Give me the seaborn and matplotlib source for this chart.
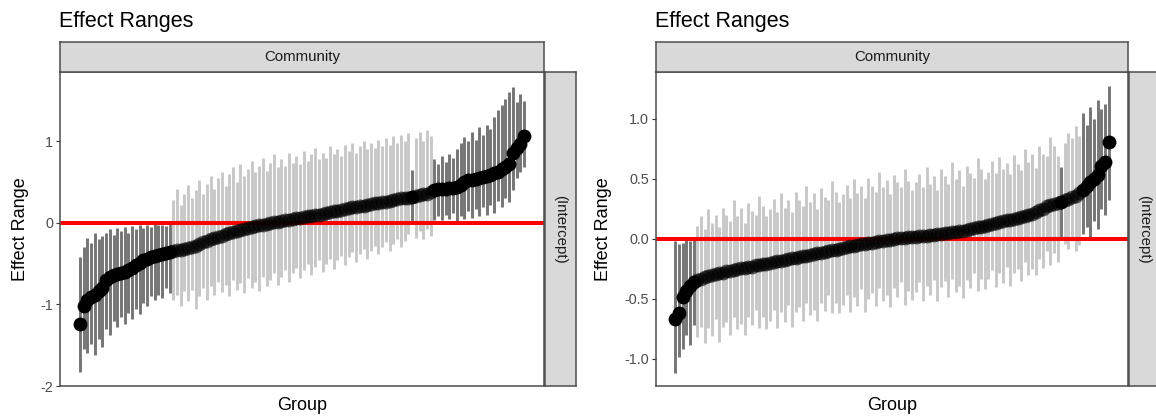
import numpy as np
import pandas as pd
import seaborn as sns
import matplotlib.pyplot as plt

# ---- data (median + interval per group) ----
left_median = [
    -1.245, -1.02, -0.95, -0.91, -0.88, -0.84, -0.80, -0.70, -0.66, -0.64,
    -0.63, -0.61, -0.60, -0.58, -0.55, -0.52, -0.49, -0.46, -0.44, -0.42,
    -0.41, -0.39, -0.38, -0.37, -0.36, -0.34, -0.335, -0.33, -0.32, -0.31,
    -0.30, -0.28, -0.26, -0.24, -0.22, -0.20, -0.19, -0.17, -0.155, -0.14,
    -0.12, -0.11, -0.10, -0.085, -0.07, -0.06, -0.05, -0.04, -0.03, -0.02,
    -0.01, 0.00, 0.005, 0.01, 0.02, 0.03, 0.04, 0.05, 0.055, 0.06,
    0.07, 0.08, 0.09, 0.095, 0.10, 0.11, 0.12, 0.13, 0.14, 0.15,
    0.16, 0.17, 0.18, 0.19, 0.20, 0.205, 0.21, 0.22, 0.23, 0.24,
    0.245, 0.25, 0.26, 0.27, 0.28, 0.29, 0.30, 0.305, 0.31, 0.32,
    0.33, 0.34, 0.35, 0.36, 0.38, 0.40, 0.41, 0.42, 0.42, 0.43,
    0.43, 0.44, 0.47, 0.50, 0.52, 0.53, 0.54, 0.55, 0.56, 0.57,
    0.59, 0.61, 0.63, 0.66, 0.69, 0.72, 0.86, 0.92, 0.97, 1.07,
]
left_lower = [
    -1.83, -1.55, -1.60, -1.48, -1.62, -1.42, -1.52, -1.30, -1.38, -1.20,
    -1.28, -1.15, -1.24, -1.10, -1.18, -1.05, -1.12, -0.98, -1.02, -0.90,
    -0.95, -0.88, -0.92, -0.80, -0.86, -0.95, -0.88, -1.02, -0.84, -0.96,
    -0.82, -1.05, -0.90, -0.80, -0.94, -0.78, -0.88, -0.72, -0.85, -0.76,
    -0.90, -0.70, -0.82, -0.74, -0.86, -0.68, -0.80, -0.72, -0.84, -0.66,
    -0.78, -0.70, -0.62, -0.76, -0.66, -0.58, -0.72, -0.62, -0.55, -0.68,
    -0.58, -0.50, -0.64, -0.54, -0.46, -0.60, -0.50, -0.44, -0.56, -0.46,
    -0.40, -0.52, -0.42, -0.36, -0.48, -0.38, -0.32, -0.44, -0.34, -0.28,
    -0.38, -0.30, -0.24, -0.34, -0.26, -0.20, -0.30, -0.22, -0.14, 0.02,
    -0.18, -0.10, -0.20, -0.08, -0.16, 0.04, 0.08, 0.03, 0.10, 0.05,
    0.12, 0.02, 0.09, 0.05, 0.14, 0.06, 0.17, 0.08, 0.19, 0.10,
    0.22, 0.12, 0.27, 0.20, 0.30, 0.25, 0.40, 0.55, 0.62, 0.68,
]
left_upper = [
    -0.42, -0.30, -0.18, -0.25, -0.12, -0.20, -0.16, -0.12, -0.08, -0.15,
    -0.06, -0.10, -0.05, -0.13, -0.04, -0.08, -0.03, -0.06, -0.02, -0.05,
    -0.01, -0.03, -0.02, -0.04, -0.01, 0.28, 0.42, 0.22, 0.36, 0.47,
    0.30, 0.40, 0.52, 0.35, 0.48, 0.58, 0.42, 0.55, 0.62, 0.45,
    0.60, 0.68, 0.50, 0.72, 0.58, 0.66, 0.76, 0.62, 0.70, 0.80,
    0.64, 0.74, 0.84, 0.68, 0.78, 0.70, 0.86, 0.74, 0.82, 0.72,
    0.88, 0.76, 0.84, 0.92, 0.78, 0.86, 0.80, 0.94, 0.84, 0.90,
    0.82, 0.96, 0.88, 0.98, 0.86, 0.94, 1.00, 0.90, 0.98, 0.92,
    1.02, 0.94, 1.04, 0.96, 1.06, 0.98, 1.08, 1.00, 1.10, 0.65,
    1.04, 1.12, 1.00, 1.14, 1.06, 0.78, 0.72, 0.82, 0.75, 0.85,
    0.80, 0.90, 0.98, 1.05, 1.00, 1.12, 1.02, 1.17, 1.08, 1.20,
    1.15, 1.30, 1.38, 1.45, 1.52, 1.60, 1.66, 1.48, 1.58, 1.50,
]

right_median = [
    -0.67, -0.62, -0.48, -0.43, -0.39, -0.36, -0.34, -0.33, -0.32, -0.31,
    -0.30, -0.29, -0.285, -0.28, -0.27, -0.265, -0.26, -0.25, -0.245, -0.24,
    -0.235, -0.23, -0.22, -0.215, -0.21, -0.205, -0.20, -0.19, -0.185, -0.18,
    -0.175, -0.17, -0.16, -0.155, -0.15, -0.145, -0.14, -0.13, -0.125, -0.12,
    -0.115, -0.11, -0.10, -0.095, -0.09, -0.08, -0.075, -0.07, -0.06, -0.055,
    -0.05, -0.045, -0.04, -0.035, -0.03, -0.025, -0.02, -0.015, -0.01, -0.005,
    0.0, 0.005, 0.008, 0.01, 0.013, 0.015, 0.02, 0.022, 0.025, 0.027,
    0.03, 0.035, 0.04, 0.045, 0.05, 0.05, 0.055, 0.06, 0.065, 0.07,
    0.075, 0.08, 0.09, 0.095, 0.10, 0.11, 0.115, 0.12, 0.13, 0.14,
    0.15, 0.155, 0.16, 0.165, 0.17, 0.18, 0.19, 0.20, 0.21, 0.22,
    0.24, 0.25, 0.27, 0.28, 0.29, 0.30, 0.31, 0.32, 0.33, 0.35,
    0.36, 0.38, 0.41, 0.44, 0.47, 0.50, 0.53, 0.61, 0.64, 0.81,
]
right_lower = [
    -1.12, -0.98, -0.92, -0.80, -0.88, -0.72, -0.82, -0.73, -0.87, -0.74,
    -0.81, -0.67, -0.86, -0.73, -0.69, -0.80, -0.65, -0.75, -0.71, -0.80,
    -0.65, -0.72, -0.59, -0.74, -0.65, -0.75, -0.68, -0.59, -0.74, -0.61,
    -0.69, -0.55, -0.73, -0.61, -0.57, -0.68, -0.53, -0.63, -0.59, -0.68,
    -0.53, -0.60, -0.47, -0.62, -0.53, -0.62, -0.55, -0.47, -0.61, -0.48,
    -0.56, -0.42, -0.61, -0.50, -0.45, -0.56, -0.41, -0.52, -0.47, -0.57,
    -0.41, -0.48, -0.36, -0.55, -0.43, -0.51, -0.44, -0.36, -0.52, -0.39,
    -0.47, -0.34, -0.52, -0.40, -0.35, -0.48, -0.33, -0.44, -0.39, -0.49,
    -0.34, -0.41, -0.28, -0.43, -0.33, -0.42, -0.33, -0.26, -0.40, -0.28,
    -0.37, -0.23, -0.39, -0.28, -0.25, -0.35, -0.19, -0.30, -0.25, -0.30,
    -0.17, -0.24, -0.10, -0.22, -0.12, -0.19, 0.01, -0.04, -0.08, -0.02,
    -0.10, -0.05, 0.04, 0.10, 0.02, 0.15, 0.08, 0.25, 0.20, 0.32,
]
right_upper = [
    -0.02, -0.04, -0.03, -0.01, -0.02, -0.01, 0.11, 0.19, 0.08, 0.25,
    0.13, 0.20, 0.10, 0.26, 0.20, 0.15, 0.32, 0.19, 0.26, 0.13,
    0.30, 0.23, 0.20, 0.36, 0.27, 0.19, 0.25, 0.33, 0.22, 0.38,
    0.26, 0.32, 0.22, 0.39, 0.32, 0.27, 0.44, 0.31, 0.38, 0.25,
    0.42, 0.35, 0.32, 0.48, 0.39, 0.31, 0.37, 0.45, 0.34, 0.50,
    0.38, 0.44, 0.34, 0.51, 0.44, 0.39, 0.56, 0.43, 0.49, 0.37,
    0.53, 0.47, 0.43, 0.58, 0.48, 0.41, 0.47, 0.54, 0.43, 0.60,
    0.46, 0.52, 0.41, 0.58, 0.52, 0.46, 0.64, 0.50, 0.57, 0.44,
    0.61, 0.55, 0.51, 0.67, 0.58, 0.50, 0.56, 0.65, 0.55, 0.68,
    0.58, 0.63, 0.54, 0.70, 0.62, 0.57, 0.75, 0.64, 0.71, 0.59,
    0.77, 0.71, 0.69, 0.85, 0.77, 0.69, 0.60, 0.80, 0.88, 0.84,
    0.94, 0.86, 1.05, 0.95, 1.10, 1.00, 1.16, 1.08, 1.12, 1.27,
]

left_ticks = [-2, -1, 0, 1]
left_ticklabels = ["-2", "-1", "0", "1"]
right_ticks = [-1.0, -0.5, 0.0, 0.5, 1.0]
right_ticklabels = ["-1.0", "-0.5", "0.0", "0.5", "1.0"]

facet_col = "Community"
facet_row = "(Intercept)"


def make_frame(med, lo, hi):
    df = pd.DataFrame({"median": med, "lower": lo, "upper": hi})
    df["group"] = np.arange(len(df))
    # significant when the whole interval sits on one side of zero
    df["sig"] = (df["lower"] > 0) | (df["upper"] < 0)
    return df


left_df = make_frame(left_median, left_lower, left_upper)
right_df = make_frame(right_median, right_lower, right_upper)

sns.set_theme(style="white")
plt.rcParams["font.family"] = ["Liberation Sans", "DejaVu Sans"]

W, H = 1156, 420
fig = plt.figure(figsize=(W / 100, H / 100), dpi=100)


def px_rect(x0, y0, x1, y1):
    return [x0 / W, 1 - y1 / H, (x1 - x0) / W, (y1 - y0) / H]


def strip(x0, y0, x1, y1, label, rotation=0):
    sax = fig.add_axes(px_rect(x0, y0, x1, y1))
    sax.set_facecolor("#d9d9d9")
    sax.set_xticks([])
    sax.set_yticks([])
    for sp in sax.spines.values():
        sp.set_color("#4d4d4d")
        sp.set_linewidth(1.1)
    sax.text(0.5, 0.5, label, rotation=rotation, ha="center", va="center",
             fontsize=10.8, color="#1a1a1a", transform=sax.transAxes)


def panel(df, x0, x1, ylim, ticks, ticklabels, ylab_x):
    ax = fig.add_axes(px_rect(x0, 72, x1, 386))
    n = len(df)
    pad = 0.045 * (n - 1)

    ns = df[~df["sig"]]
    sg = df[df["sig"]]
    ax.vlines(ns["group"], ns["lower"], ns["upper"], color="#c8c8c8", lw=2.1, zorder=1)
    ax.vlines(sg["group"], sg["lower"], sg["upper"], color="#757575", lw=2.1, zorder=1)
    ax.axhline(0, color="red", lw=2.9, zorder=2)
    sns.scatterplot(data=ns, x="group", y="median", color="black", alpha=0.6,
                    s=100, linewidth=0, ax=ax, zorder=3, legend=False)
    sns.scatterplot(data=sg, x="group", y="median", color="black",
                    s=100, linewidth=0, ax=ax, zorder=4, legend=False)

    ax.set_xlim(-pad, n - 1 + pad)
    ax.set_ylim(*ylim)
    ax.set_xticks([])
    ax.set_yticks(ticks)
    ax.set_yticklabels(ticklabels)
    ax.tick_params(axis="y", length=3, width=0.8, color="#333333",
                   labelcolor="#4d4d4d", labelsize=10.4, pad=2, left=True)
    ax.set_xlabel("")
    ax.set_ylabel("")
    for sp in ax.spines.values():
        sp.set_color("#4d4d4d")
        sp.set_linewidth(1.1)

    strip(x0, 42, x1, 72, facet_col)
    strip(x1 + 1, 72, x1 + 32, 386, facet_row, rotation=-90)

    fig.text(x0 / W - 0.0008, 1 - 27 / H, "Effect Ranges", fontsize=15.5,
             color="black", ha="left", va="baseline")
    fig.text(ylab_x / W, 1 - 229 / H, "Effect Range", fontsize=13,
             rotation=90, ha="center", va="center", color="black")
    fig.text((x0 + x1) / 2 / W, 1 - 406 / H, "Group", fontsize=13,
             ha="center", va="center", color="black")
    return ax


panel(left_df, 60, 544, (-2.0, 1.85), left_ticks, left_ticklabels, 21)
panel(right_df, 656, 1128, (-1.225, 1.39), right_ticks, right_ticklabels, 604)

fig.savefig("out.png", dpi=100)
